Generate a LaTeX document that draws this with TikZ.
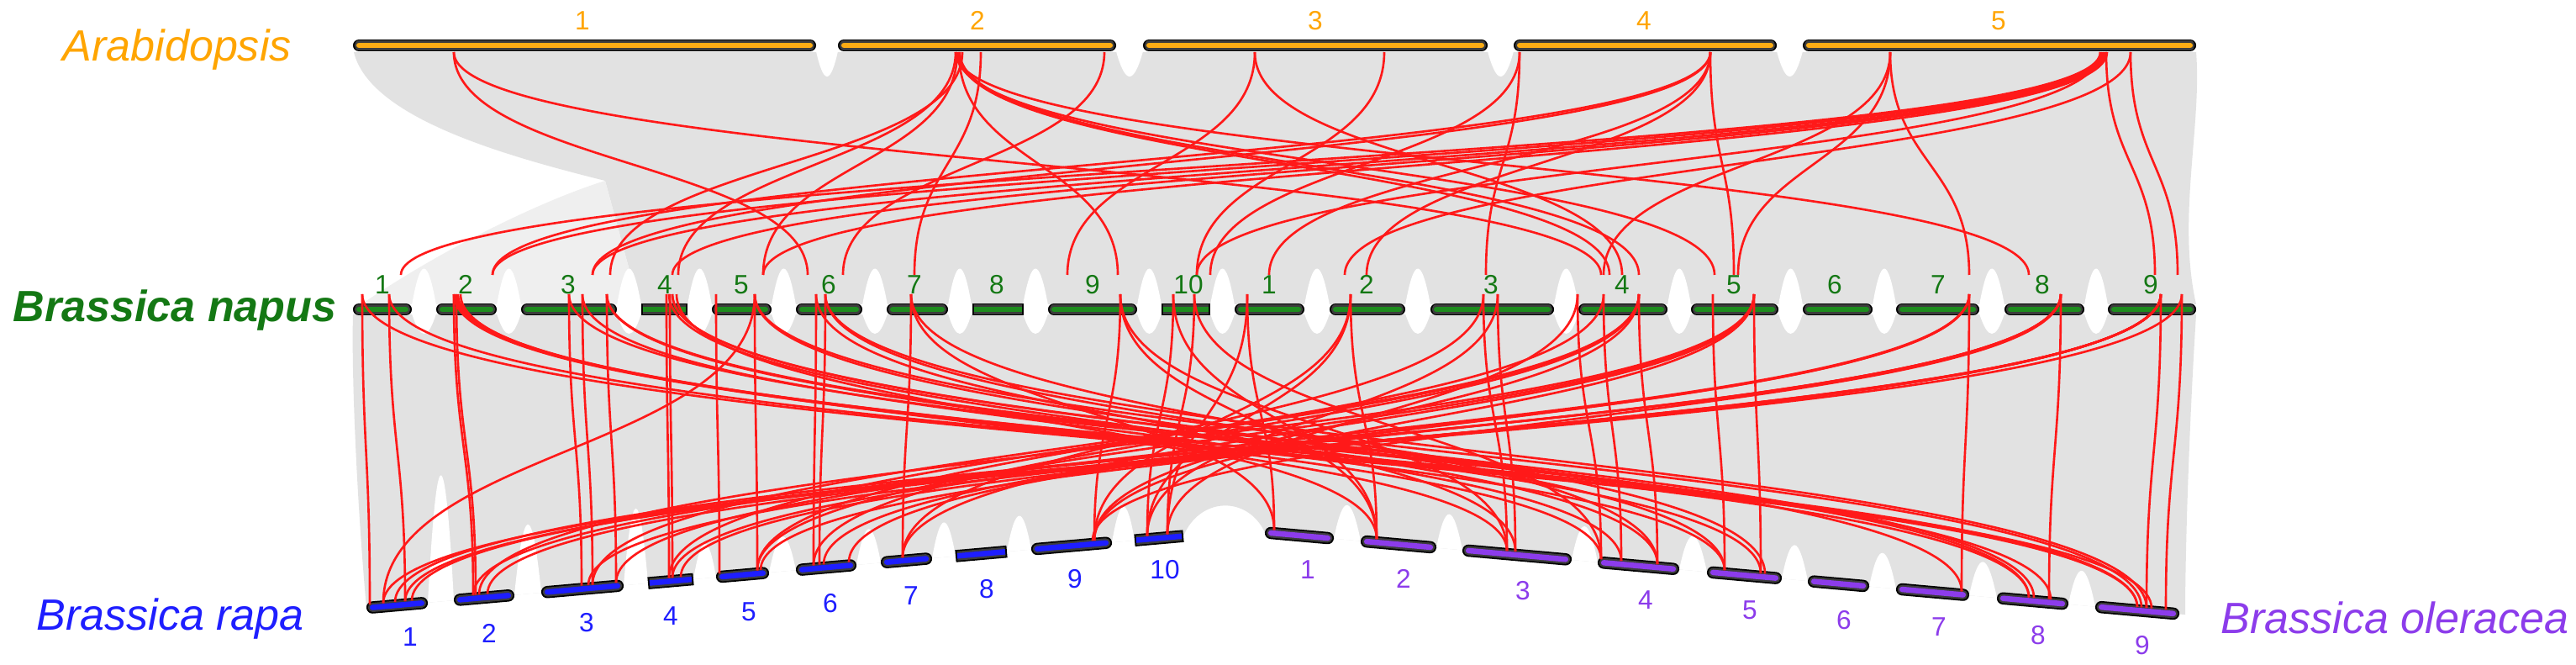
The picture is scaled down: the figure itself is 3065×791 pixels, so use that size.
\documentclass[tikz,border=0pt]{standalone}
\usepackage{fontspec}
\setmainfont{Liberation Sans}
\definecolor{arac}{RGB}{252,172,20}
\definecolor{arat}{RGB}{255,165,0}
\definecolor{napc}{RGB}{30,140,30}
\definecolor{napt}{RGB}{20,120,20}
\definecolor{rapc}{RGB}{30,30,255}
\definecolor{olec}{RGB}{140,60,235}
\definecolor{linkred}{RGB}{255,25,25}
\definecolor{ribgray}{RGB}{226,226,226}
\definecolor{chrgray}{RGB}{60,60,60}
\pgfmathdeclarefunction{yr}{1}{\pgfmathparse{720-0.088*(#1-472)}}
\pgfmathdeclarefunction{yo}{1}{\pgfmathparse{637+0.0893*(#1-1546)}}
\tikzset{
  redl/.style={draw=linkred, line width=0.75pt},
  numlab/.style={anchor=base, inner sep=0pt, font=\fontsize{9}{9}\selectfont},
  species/.style={anchor=base west, inner sep=0pt, font=\fontsize{14.8}{15}\selectfont\itshape},
}
\newcommand\chrR[3]{%
  \draw[line cap=round, line width=0.145cm, black, shorten <=0.072cm, shorten >=0.072cm] #1 -- #2;
  \draw[line cap=round, line width=0.11cm, chrgray, shorten <=0.072cm, shorten >=0.072cm] #1 -- #2;
  \draw[line cap=round, line width=0.065cm, #3, shorten <=0.072cm, shorten >=0.072cm] #1 -- #2;}
\newcommand\chrB[3]{%
  \draw[line cap=butt, line width=0.145cm, black] #1 -- #2;
  \draw[line cap=butt, line width=0.11cm, chrgray, shorten <=0.02cm, shorten >=0.02cm] #1 -- #2;
  \draw[line cap=butt, line width=0.065cm, #3, shorten <=0.02cm, shorten >=0.02cm] #1 -- #2;}
\newcommand\toplink[2]{\draw[redl] (#1,62) .. controls (#1,195) and (#2,195) .. (#2,327);}
\newcommand\botrap[2]{\draw[redl] (#1,350) .. controls (#1,{(350+yr(#2))/2}) and (#2,{(350+yr(#2))/2}) .. (#2,{yr(#2)-4});}
\newcommand\botole[2]{\draw[redl] (#1,350) .. controls (#1,{(350+yo(#2))/2}) and (#2,{(350+yo(#2))/2}) .. (#2,{yo(#2)-4});}
\newcommand\notchdn[4]{\fill[white] (#1,#3) .. controls ({#1+0.35*(#2-#1)},{#3+#4}) and ({#2-0.35*(#2-#1)},{#3+#4}) .. (#2,#3) -- cycle;}
\newcommand\notchup[4]{\fill[white] (#1,#3) .. controls ({#1+0.35*(#2-#1)},{#3-#4}) and ({#2-0.35*(#2-#1)},{#3-#4}) .. (#2,#3) -- cycle;}
\newcommand\notchr[3]{\fill[white] (#1,{yr(#1)}) .. controls ({#1+0.35*(#2-#1)},{yr(#1)-#3}) and ({#2-0.35*(#2-#1)},{yr(#2)-#3}) .. (#2,{yr(#2)}) -- cycle;}
\newcommand\notcho[3]{\fill[white] (#1,{yo(#1)}) .. controls ({#1+0.35*(#2-#1)},{yo(#1)-#3}) and ({#2-0.35*(#2-#1)},{yo(#2)-#3}) .. (#2,{yo(#2)}) -- cycle;}
\begin{document}
\begin{tikzpicture}[x=0.01cm,y=-0.01cm]
\useasboundingbox (0,0) rectangle (3065,791);
\fill[white] (0,0) rectangle (3065,791);
% ---------- grey ribbons ----------
\fill[ribgray] (421,62) -- (2613,62) .. controls (2620,150) and (2590,260) .. (2613,362) -- (760,362) -- (720,215) .. controls (600,185) and (440,140) .. (421,62) -- cycle;
\fill[ribgray!55] (720,215) -- (760,362) -- (430,362) .. controls (520,300) and (640,240) .. (720,215) -- cycle;
\fill[ribgray] (420,374) -- (2613,374) .. controls (2605,500) and (2600,650) .. (2600,{yo(2600)}) -- (1505,{yo(1505)}) .. controls (1485,590) and (1428,590) .. (1408,{yr(1408)}) -- (436,{yr(436)}) .. controls (425,600) and (418,450) .. (420,374) -- cycle;
% notches between Arabidopsis chromosomes
\foreach \a/\b in {971/997,1328/1360,1770/1801,2114/2145} {\notchdn{\a}{\b}{61}{40}}
% notches between napus chromosomes
\foreach \a/\b in {490/519,591/620,734/763,818/847,918/947,1026/1056,1128/1156,1217/1247,1353/1382,1440/1469,1552/1582,1672/1702,1849/1878,1984/2012,2116/2145,2228/2256,2355/2385,2480/2508}
  {\notchup{\a}{\b}{363}{58}\notchdn{\a}{\b}{373}{32}}
% notches between bottom chromosomes
\notchr{509}{540}{200}
\notchr{612}{644}{110}
\notchr{742}{771}{120}
\foreach \a/\b in {825/852,915/947,1019/1048,1109/1137,1198/1227,1323/1350} {\notchr{\a}{\b}{55}}
\foreach \a/\b in {1587/1619,1709/1740,1870/1901,1998/2031,2120/2151,2224/2256,2343/2376,2461/2493} {\notcho{\a}{\b}{55}}
% ---------- chromosomes ----------
\foreach \a/\b in {420/971,997/1328,1360/1770,1801/2114,2145/2613} {\chrR{(\a,54)}{(\b,54)}{arac}}
\foreach \a/\b in {420/490,519/591,620/734,847/918,947/1026,1055/1128,1247/1353,1469/1552,1582/1672,1702/1849,1878/1984,2012/2116,2145/2228,2256/2355,2385/2480,2508/2613} {\chrR{(\a,368)}{(\b,368)}{napc}}
\foreach \a/\b in {763/818,1157/1218,1382/1440} {\chrB{(\a,368)}{(\b,368)}{napc}}
\foreach \a/\b in {436/509,540/612,644/742,852/915,947/1019,1048/1109,1227/1323} {\chrR{(\a,{yr(\a)})}{(\b,{yr(\b)})}{rapc}}
\foreach \a/\b in {771/825,1137/1198,1350/1408} {\chrB{(\a,{yr(\a)})}{(\b,{yr(\b)})}{rapc}}
\foreach \a/\b in {1505/1587,1619/1709,1740/1870,1901/1998,2031/2120,2151/2224,2256/2343,2376/2461,2493/2593} {\chrR{(\a,{yo(\a)})}{(\b,{yo(\b)})}{olec}}
% ---------- red links: Arabidopsis -> napus ----------
\toplink{540}{961}\toplink{540}{1905}
\toplink{1137}{807}\toplink{1139}{908}\toplink{1145}{726}\toplink{1141}{1330}\toplink{1167}{1088}
\toplink{1140}{1915}\toplink{1142}{1950}\toplink{1138}{2040}\toplink{1137}{2414}
\toplink{1314}{1003}
\toplink{1493}{1270}\toplink{1493}{1930}\toplink{1647}{1424}
\toplink{1808}{1768}\toplink{1808}{1440}
\toplink{2035}{586}\toplink{2035}{705}\toplink{2035}{1510}\toplink{2035}{1626}\toplink{2035}{2063}
\toplink{2249}{1908}\toplink{2249}{2343}\toplink{2249}{2068}
\toplink{2499}{477}\toplink{2501}{586}\toplink{2503}{705}\toplink{2505}{800}\toplink{2507}{908}\toplink{2499}{1424}\toplink{2535}{1600}
\toplink{2506}{2564}\toplink{2535}{2591}
% ---------- red links: napus -> rapa / oleracea ----------
\botrap{431}{440}\botrap{463}{482}\botrap{540}{563}\botrap{543}{566}
\botrap{677}{692}\botrap{693}{705}\botrap{722}{733}\botrap{793}{796}\botrap{797}{800}
\botrap{852}{856}\botrap{898}{901}\botrap{971}{968}\botrap{982}{975}\botrap{1084}{1074}
\botrap{1333}{1302}\botrap{1396}{1365}\botrap{1421}{1389}
\botole{1484}{1516}\botole{1607}{1638}\botole{1765}{1793}\botole{1782}{1803}
\botole{1877}{1905}\botole{1908}{1929}\botole{1950}{1972}\botole{2038}{2052}\botole{2087}{2095}
\botole{2343}{2334}\botole{2452}{2438}\botole{2571}{2554}\botole{2596}{2577}
\botole{431}{2543}\botole{540}{1905}\botole{541}{2052}\botole{543}{2414}\botole{545}{2543}\botole{548}{1793}
\botole{693}{1929}\botole{722}{2414}\botole{722}{2095}\botole{796}{1972}\botole{800}{2420}\botole{800}{2334}
\botole{805}{1638}\botole{898}{2548}\botole{898}{2052}\botole{971}{1803}\botole{982}{2554}\botole{1084}{1516}
\botole{1333}{1638}\botole{1333}{1793}\botole{1421}{1905}
\botole{463}{2560}\botole{677}{2440}\botole{982}{2100}\botole{1084}{1972}\botole{1396}{1638}
\botrap{898}{456}
\botrap{1484}{1389}\botrap{1607}{1302}\botrap{1607}{1365}\botrap{1765}{1074}
\botrap{1950}{796}\botrap{1950}{705}\botrap{1950}{968}\botrap{1950}{1302}\botrap{1877}{1389}
\botrap{2087}{901}\botrap{2087}{570}\botrap{2087}{1074}
\botrap{2343}{980}\botrap{2343}{733}
\botrap{2452}{800}\botrap{2452}{470}\botrap{2452}{1300}
\botrap{2571}{456}\botrap{2571}{490}\botrap{2571}{580}\botrap{2571}{810}\botrap{2571}{905}\botrap{2571}{700}
\botrap{2596}{482}\botrap{2452}{563}\botrap{2343}{1010}\botrap{2087}{1302}\botrap{1782}{1365}\botrap{1908}{901}
% ---------- labels ----------
\node[species, text=arat] (lara) at (74,73) {Arabidopsis};
\node[species, text=napt, font=\fontsize{14.8}{15}\selectfont\bfseries\itshape] (lnap) at (15,383) {Brassica napus};
\node[species, text=rapc] (lrap) at (43,749) {Brassica rapa};
\node[species, text=olec] (lole) at (2642,753) {Brassica oleracea};
\foreach \x/\t [count=\i] in {693/1,1163/2,1565/3,1956/4,2378/5}
  \node[numlab, text=arat] (ta\i) at (\x,36) {\t};
\foreach \x/\t [count=\i] in {455/1,554/2,676/3,791/4,882/5,986/6,1088/7,1186/8,1300/9,1414/10,1510/1,1626/2,1774/3,1930/4,2063/5,2183/6,2306/7,2430/8,2559/9}
  \node[numlab, text=napt] (tn\i) at (\x,350) {\t};
\foreach \x/\y [count=\i] in {488/768,582/764,698/751,798/743,891/738,988/728,1084/719,1174/711,1279/699,1386/688}
  \node[numlab, text=rapc] (tr\i) at (\x,\y) {\i};
\foreach \x/\y [count=\i] in {1556/688,1670/699,1812/713,1958/724,2082/736,2194/748,2307/756,2425/766,2549/778}
  \node[numlab, text=olec] (to\i) at (\x,\y) {\i};
\end{tikzpicture}
\end{document}
